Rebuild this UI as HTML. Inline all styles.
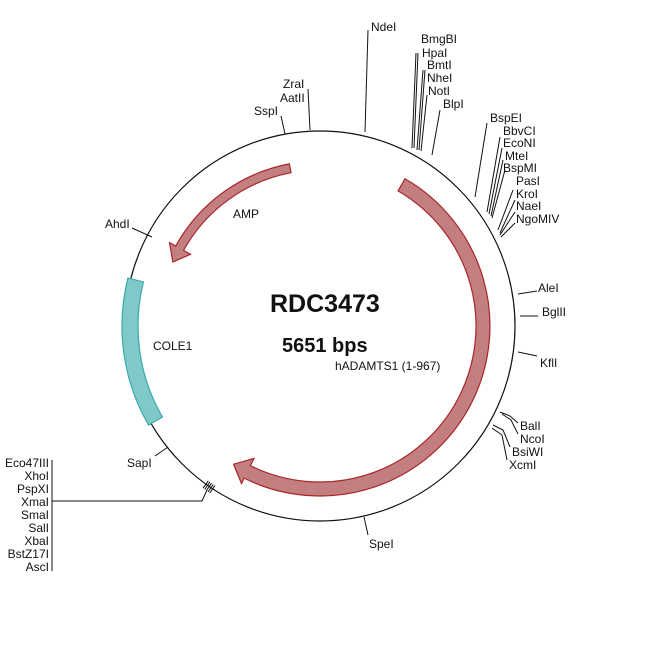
<!DOCTYPE html>
<html><head><meta charset="utf-8"><style>
html,body{margin:0;padding:0;background:#fff;}
svg{display:block;}
text{font-family:"Liberation Sans",Arial,sans-serif;font-size:12px;fill:#111;}
</style></head><body>
<svg id="s" width="650" height="650" viewBox="0 0 650 650" xmlns="http://www.w3.org/2000/svg">
<rect width="650" height="650" fill="#fff"/>
<circle cx="320" cy="326" r="195" fill="none" stroke="#111" stroke-width="1.2"/>
<path id="cole" fill="#80c9c9" stroke="#3aa9a9" stroke-width="1.2"/>
<path id="had" fill="#c37f7f" stroke="#a8262a" stroke-width="1.2"/>
<path id="amp" fill="#c37f7f" stroke="#a8262a" stroke-width="1.2"/>
<g stroke="#111" stroke-width="1" fill="none">
<polyline points="368,30 365,132"/>
<polyline points="416,53 412,148"/>
<polyline points="418,53 414,148"/>
<polyline points="423,70 417,150"/>
<polyline points="425,70 419,150"/>
<polyline points="427,95 421,151"/>
<polyline points="440,110 432,155"/>
<polyline points="487,123 475,197"/>
<polyline points="500,137 487,212"/>
<polyline points="502,148 489,214"/>
<polyline points="503,160 491,216"/>
<polyline points="505,170 492,218"/>
<polyline points="513,190 498,230"/>
<polyline points="515,200 500,233"/>
<polyline points="515,212 500,235"/>
<polyline points="515,223 501,237"/>
<polyline points="518,294 537,291"/>
<polyline points="520,316 538,316"/>
<polyline points="518,352 537,356"/>
<polyline points="500,412 510,416 518,423"/>
<polyline points="502,414 511,420 518,434"/>
<polyline points="493,425 503,430 510,447"/>
<polyline points="492,428 502,435 507,460"/>
<polyline points="364,517 368,535"/>
<polyline points="52,460 52,571"/>
<polyline points="52,501 202,501 207,490"/>
<polyline points="155,456 168,447"/>
<polyline points="132,228 152,237"/>
<polyline points="281,116 285,134"/>
<polyline points="308,89 310,130"/>
</g>
<g id="hatch" stroke="#111" stroke-width="1"></g>
<text x="270" y="312" style="font-size:25px;font-weight:bold">RDC3473</text>
<text x="282" y="352" style="font-size:20px;font-weight:bold">5651 bps</text>
<text x="335" y="370" style="font-size:12px">hADAMTS1 (1-967)</text>
<text x="233" y="218">AMP</text>
<text x="153" y="350">COLE1</text>
<text x="371" y="31">NdeI</text>
<text x="421" y="43">BmgBI</text>
<text x="422" y="57">HpaI</text>
<text x="427" y="69">BmtI</text>
<text x="427" y="82">NheI</text>
<text x="428" y="95">NotI</text>
<text x="443" y="108">BlpI</text>
<text x="490" y="122">BspEI</text>
<text x="503" y="135">BbvCI</text>
<text x="503" y="147">EcoNI</text>
<text x="505" y="160">MteI</text>
<text x="503" y="172">BspMI</text>
<text x="516" y="185">PasI</text>
<text x="516" y="198">KroI</text>
<text x="516" y="210">NaeI</text>
<text x="516" y="223">NgoMIV</text>
<text x="538" y="292">AleI</text>
<text x="542" y="316">BglII</text>
<text x="540" y="367">KflI</text>
<text x="520" y="430">BalI</text>
<text x="520" y="443">NcoI</text>
<text x="512" y="456">BsiWI</text>
<text x="509" y="469">XcmI</text>
<text x="369" y="548">SpeI</text>
<text x="127" y="467">SapI</text>
<text x="105" y="228">AhdI</text>
<text x="254" y="115">SspI</text>
<text x="283" y="88">ZraI</text>
<text x="280" y="102">AatII</text>
<g text-anchor="end">
<text x="49" y="467">Eco47III</text>
<text x="49" y="480">XhoI</text>
<text x="49" y="493">PspXI</text>
<text x="49" y="506">XmaI</text>
<text x="49" y="519">SmaI</text>
<text x="49" y="532">SalI</text>
<text x="49" y="545">XbaI</text>
<text x="49" y="558">BstZ17I</text>
<text x="49" y="571">AscI</text>
</g>
</svg>
<script>
function P(r,a){a=a*Math.PI/180;return (320+r*Math.sin(a)).toFixed(2)+","+(326-r*Math.cos(a)).toFixed(2);}
function arrow(a1,a2,ri,ro,hi,ho,tipA,dir){
 var rm=(ri+ro)/2,large=Math.abs(a2-a1)>180?1:0,sw=dir>0?1:0,sw2=dir>0?0:1;
 return "M"+P(ro,a1)+" A"+ro+","+ro+" 0 "+large+" "+sw+" "+P(ro,a2)+" L"+P(ho,a2)+" L"+P(rm,tipA)+" L"+P(hi,a2)+" L"+P(ri,a2)+" A"+ri+","+ri+" 0 "+large+" "+sw2+" "+P(ri,a1)+" Z";
}
document.getElementById("had").setAttribute("d",arrow(30,206.5,156,170,148,176,212,1));
document.getElementById("amp").setAttribute("d",arrow(349.3,299,156,165,148,172,293.5,-1));
document.getElementById("cole").setAttribute("d","M"+P(198,240)+" A198,198 0 0 1 "+P(198,284)+" L"+P(182,284)+" A182,182 0 0 0 "+P(182,240)+" Z");
var h=document.getElementById("hatch"),s="";
[213.4,214,214.6,215.2,215.8].forEach(function(a){s+='<line x1="'+P(191,a).split(",")[0]+'" y1="'+P(191,a).split(",")[1]+'" x2="'+P(200,a).split(",")[0]+'" y2="'+P(200,a).split(",")[1]+'"/>';});
h.innerHTML=s;
</script>
</body></html>
